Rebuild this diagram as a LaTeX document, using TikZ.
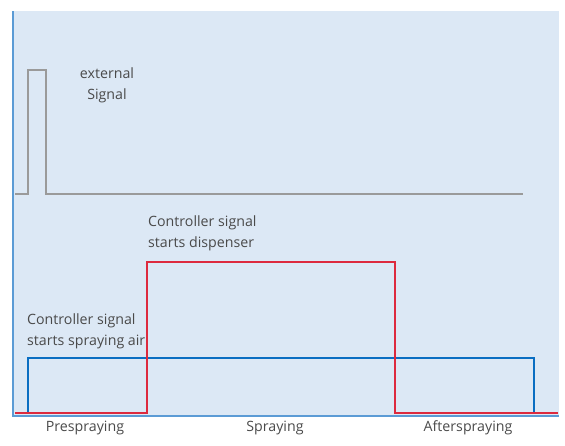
\documentclass[tikz,border=0pt]{standalone}
\usepackage{fontspec}
\setmainfont{Open Sans}
\definecolor{panel}{HTML}{DCE8F5}
\definecolor{frame}{HTML}{5B9BD5}
\definecolor{airline}{HTML}{0A6EC2}
\definecolor{displine}{HTML}{DD2A3E}
\definecolor{extline}{HTML}{9A9A9A}
\definecolor{txt}{HTML}{4A4A4A}
\begin{document}
\begin{tikzpicture}[x=1pt,y=-1pt]
\tikzset{every node/.style={text=txt,font=\fontsize{14.2}{21}\selectfont,inner sep=0pt},
  lbl/.style={align=left,anchor=north west},
  phase/.style={anchor=center}}
\useasboundingbox (0,0) rectangle (565,445);
\fill [panel] (12,11) rectangle (559,415);
\draw [frame,line width=2pt] (12.5,11) -- (12.5,415.5) -- (559,415.5);
% external signal
\draw [extline,line width=2.4pt] (15,194) -- (28,194) -- (28,70) -- (46,70) -- (46,194) -- (523,194);
\node (ext) [align=center] at (107,85) {external\\Signal};
% spraying air
\draw [airline,line width=2.4pt] (28,413) -- (28,358) -- (534,358) -- (534,413);
\node (air) [lbl] at (27,314) {Controller signal\\starts spraying air};
% dispenser
\draw [displine,line width=2.7pt] (15,413) -- (147,413) -- (147,262) -- (395,262) -- (395,413) -- (558,413);
\node (disp) [lbl] at (148,216) {Controller signal\\starts dispenser};
% phases
\node (pre) [phase] at (85,428) {Prespraying};
\node (spr) [phase] at (275,428) {Spraying};
\node (aft) [phase] at (468,428) {Afterspraying};
\end{tikzpicture}
\end{document}
